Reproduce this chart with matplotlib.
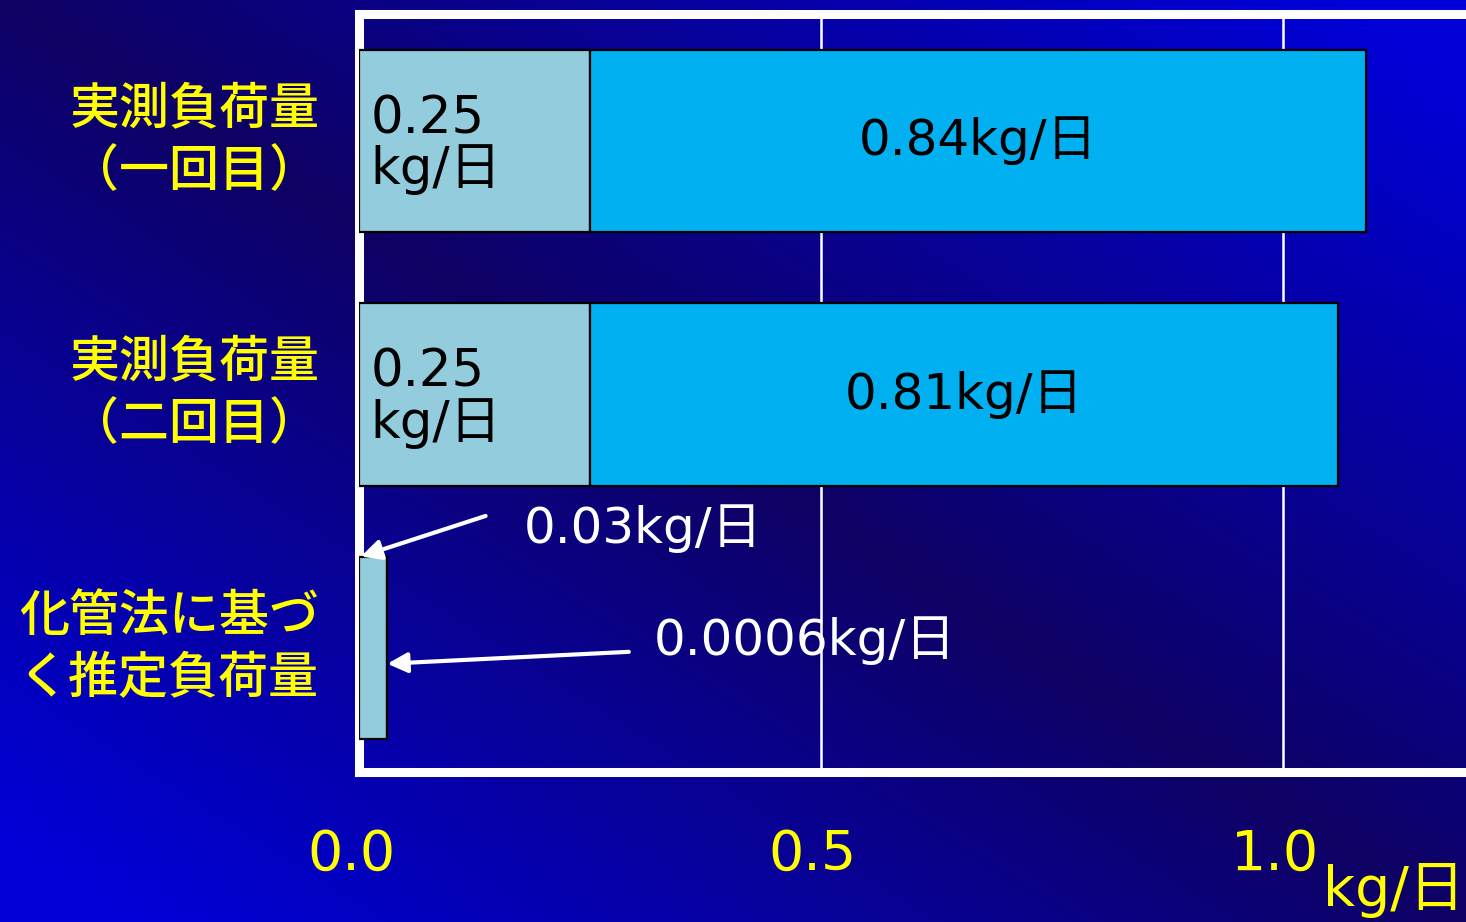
import numpy as np
import matplotlib
matplotlib.use("Agg")
import matplotlib.pyplot as plt
from matplotlib.transforms import ScaledTranslation

# 数字は DejaVu、漢字は Noto CJK で描く
plt.rcParams['font.family'] = ['DejaVu Sans', 'Noto Sans CJK JP']
CJK = ['Noto Sans CJK JP', 'DejaVu Sans']

# 負荷量データ (kg/日)
categories = ["実測負荷量\n（一回目）", "実測負荷量\n（二回目）", "化管法に基づ\nく推定負荷量"]
base_vals = [0.25, 0.25, 0.03]       # 左側の区分
rest_vals = [0.84, 0.81, 0.0006]     # 右側に積み上げる区分
base_labels = ["0.25\nkg/日", "0.25\nkg/日", "0.03kg/日"]
rest_labels = ["0.84kg/日", "0.81kg/日", "0.0006kg/日"]
xticks = [0.0, 0.5, 1.0]
xtick_labels = ["0.0", "0.5", "1.0"]

ypos = [2, 1, 0]
bar_h = 0.72

fig = plt.figure(figsize=(14.66, 9.22), dpi=100)

# 背景のグラデーション(左上〜右下が暗く、右上と左下が明るい)
bg = fig.add_axes([0, 0, 1, 1])
H, W = 922, 1466
u = np.linspace(0, 1, W)[None, :]
v = np.linspace(0, 1, H)[:, None]
d = np.clip(np.abs(u - v) * 1.1, 0, 1)
dark = np.array([14, 2, 100]) / 255
bright = np.array([0, 0, 215]) / 255
img = dark[None, None, :] * (1 - d[..., None]) + bright[None, None, :] * d[..., None]
bg.imshow(img, extent=[0, 1, 0, 1], aspect='auto', zorder=0)
bg.axis('off')

ax = fig.add_axes([0.2449, 0.1627, 0.7531, 0.8221])
ax.set_facecolor('none')

# 積み上げ横棒
ax.barh(ypos, base_vals, height=bar_h, color='#93CDDD', edgecolor='black', linewidth=1.6, zorder=3)
ax.barh(ypos, rest_vals, left=base_vals, height=bar_h, color='#00B0F0', edgecolor='black', linewidth=1.6, zorder=3)

ax.set_xlim(0, 1.195)
ax.set_ylim(-0.49, 2.5)

# 棒の中のラベル (上の2本)
for i in range(2):
    ax.text(base_vals[i] * 0.05, ypos[i] - 0.015, base_labels[i], ha='left', va='center',
            fontsize=37, color='black', linespacing=1.0, zorder=4)
    ax.text(base_vals[i] + rest_vals[i] / 2, ypos[i], rest_labels[i], ha='center', va='center',
            fontsize=36, color='black', zorder=4)

# 推定負荷量は棒が細いので矢印で示す
arrow = dict(arrowstyle='-|>', color='white', lw=3, mutation_scale=30, shrinkA=0, shrinkB=0)
ax.text(0.178, ypos[2] + 0.47, base_labels[2], ha='left', va='center',
        fontsize=36, color='white', zorder=4)
ax.annotate("", xy=(0.002, ypos[2] + bar_h / 2), xytext=(0.137, ypos[2] + 0.52),
            arrowprops=arrow, zorder=4)
ax.text(0.319, ypos[2] + 0.028, rest_labels[2], ha='left', va='center',
        fontsize=36, color='white', zorder=4)
ax.annotate("", xy=(base_vals[2] + rest_vals[2], ypos[2] - 0.063), xytext=(0.292, ypos[2] - 0.016),
            arrowprops=arrow, zorder=4)

# 縦軸ラベル
for y, lab in zip(ypos, categories):
    ax.text(-0.043, y, lab, ha='right', va='center', fontsize=36, color='#FFFF00',
            family=CJK, fontweight='medium', linespacing=1.3, multialignment='right',
            transform=ax.transData, clip_on=False)
ax.set_yticks([])

ax.set_xticks(xticks)
ax.set_xticklabels(xtick_labels, fontsize=40, color='#FFFF00')
ax.tick_params(axis='x', length=0, pad=40)
shift = ScaledTranslation(-8 / 100, 0, fig.dpi_scale_trans)
for t in ax.get_xticklabels():
    t.set_transform(t.get_transform() + shift)

ax.grid(axis='x', color='white', lw=1.8)
ax.set_axisbelow(True)

for side in ['left', 'top', 'bottom']:
    ax.spines[side].set_color('white')
    ax.spines[side].set_linewidth(6.5)
ax.spines['right'].set_visible(False)

fig.text(0.999, 0.004, "kg/日", ha='right', va='bottom', fontsize=40, color='#FFFF00')

fig.savefig("out.png", dpi=100)
